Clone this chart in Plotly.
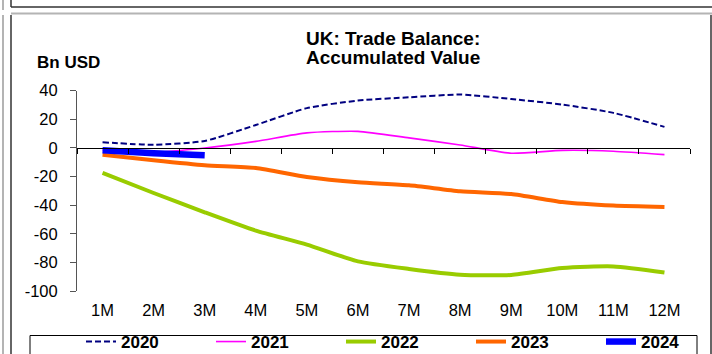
import plotly.graph_objects as go

# Month-of-year categories and cumulative trade balance (Bn USD) per year
months = ["1M", "2M", "3M", "4M", "5M", "6M", "7M", "8M", "9M", "10M", "11M", "12M"]
y2020 = [4.0, 2.2, 4.9, 16.0, 27.8, 33.1, 35.4, 37.3, 34.2, 30.3, 24.5, 14.7]
y2021 = [-1.5, -3.0, 0.0, 4.6, 10.5, 11.6, 7.0, 2.1, -3.7, -1.7, -2.3, -4.7]
y2022 = [-17.5, -31.5, -45.0, -57.8, -67.6, -79.3, -84.6, -88.6, -88.8, -83.9, -82.8, -87.0]
y2023 = [-4.7, -8.6, -12.1, -14.0, -20.3, -24.0, -26.1, -30.3, -32.2, -37.8, -40.3, -41.3]
y2024 = [-1.6, -3.7, -5.2]
y_ticks = [40, 20, 0, -20, -40, -60, -80, -100]

W, H = 712, 354
FONT = "Arial, Liberation Sans, sans-serif"

# plot area in pixels
PL, PR, PT, PB = 77, 690, 90.7, 291

def px(x):
    return x / W

def py(y):
    return 1 - y / H

xs = list(range(1, len(months) + 1))

series = [
    ("2020", y2020, dict(color="#000080", width=2, dash="6px,3px")),
    ("2021", y2021, dict(color="#FF00FF", width=1.6)),
    ("2022", y2022, dict(color="#99CC00", width=4)),
    ("2023", y2023, dict(color="#FF6600", width=4)),
    ("2024", y2024, dict(color="#0000FF", width=6.5)),
]

fig = go.Figure()
for name, vals, line in series:
    fig.add_trace(go.Scatter(
        x=xs[:len(vals)], y=vals, name=name, mode="lines",
        line=dict(shape="spline", smoothing=0.6, **line),
    ))

# helper axis carrying the category tick marks along the zero line
fig.add_trace(go.Scatter(x=[], y=[], xaxis="x2", yaxis="y", showlegend=False))

zero_px = PB - (0 - y_ticks[-1]) * (PB - PT) / (y_ticks[0] - y_ticks[-1])

fig.update_layout(
    width=W, height=H, autosize=False,
    margin=dict(l=0, r=0, t=0, b=0, autoexpand=False),
    paper_bgcolor="white", plot_bgcolor="white",
    font=dict(family=FONT, size=16, color="black"),
    xaxis=dict(
        domain=[px(PL), px(PR)], range=[0.5, 12.5],
        tickvals=xs, ticktext=months, ticks="", showline=False,
        showgrid=False, zeroline=False, automargin=False,
        tickfont=dict(size=16.5), ticklabelstandoff=7,
    ),
    xaxis2=dict(
        overlaying="x", anchor="free", position=py(zero_px),
        domain=[px(PL), px(PR)], range=[0.5, 12.5],
        tickvals=[i + 0.5 for i in range(0, 13)], ticks="outside",
        ticklen=5, tickcolor="black", showticklabels=False,
        showline=True, linecolor="black", linewidth=1,
        showgrid=False, zeroline=False, side="bottom",
    ),
    yaxis=dict(
        domain=[py(PB), py(PT)], range=[-100, 40],
        tickvals=y_ticks, ticktext=[str(v) for v in y_ticks],
        ticks="outside", ticklen=6, tickcolor="#555",
        showline=True, linecolor="#555", linewidth=1,
        showgrid=False, zeroline=False, automargin=False,
        tickfont=dict(size=16.5), ticklabelstandoff=9,
    ),
    showlegend=True,
    legend=dict(
        orientation="h", x=px(81), y=py(324), xanchor="left", yanchor="top",
        borderwidth=0, bgcolor="rgba(0,0,0,0)",
        entrywidth=85, entrywidthmode="pixels",
        font=dict(family=FONT, size=17, color="black", weight="bold"),
        itemclick=False,
    ),
    annotations=[
        dict(text="<b>UK: Trade Balance:</b>",
             x=px(393), y=py(38), xref="paper", yref="paper",
             xanchor="center", yanchor="middle", showarrow=False,
             font=dict(size=19)),
        dict(text="<b>Accumulated Value</b>",
             x=px(393), y=py(58), xref="paper", yref="paper",
             xanchor="center", yanchor="middle", showarrow=False,
             font=dict(size=19)),
        dict(text="<b>Bn USD</b>", x=px(35), y=py(63), xref="paper", yref="paper",
             xanchor="left", yanchor="middle", showarrow=False,
             font=dict(size=17)),
    ],
)

# legend frame
fig.add_shape(type="rect", xref="paper", yref="paper",
              x0=px(30), x1=px(697), y0=py(335.5), y1=py(365),
              line=dict(color="black", width=1), fillcolor="rgba(0,0,0,0)",
              layer="below")

# surrounding panel frames
frame = []
gray, dark = "#B4B4B4", "#333333"
frame.append(dict(x0=3, y0=0, x1=3, y1=10, color=gray, w=2))
frame.append(dict(x0=3, y0=15, x1=3, y1=354, color=gray, w=2))
frame.append(dict(x0=11, y0=0, x1=11, y1=7, color=dark, w=1.5))
frame.append(dict(x0=11, y0=7, x1=712, y1=7, color=dark, w=1.5))
frame.append(dict(x0=11, y0=13.5, x1=712, y1=13.5, color=gray, w=2))
frame.append(dict(x0=11, y0=15, x1=11, y1=354, color=dark, w=1.5))
frame.append(dict(x0=711, y0=15, x1=711, y1=354, color=dark, w=1.5))
for f in frame:
    fig.add_shape(type="line", xref="paper", yref="paper",
                  x0=px(f["x0"]), x1=px(f["x1"]), y0=py(f["y0"]), y1=py(f["y1"]),
                  line=dict(color=f["color"], width=f["w"]), layer="above")

fig.write_html("out.html")
